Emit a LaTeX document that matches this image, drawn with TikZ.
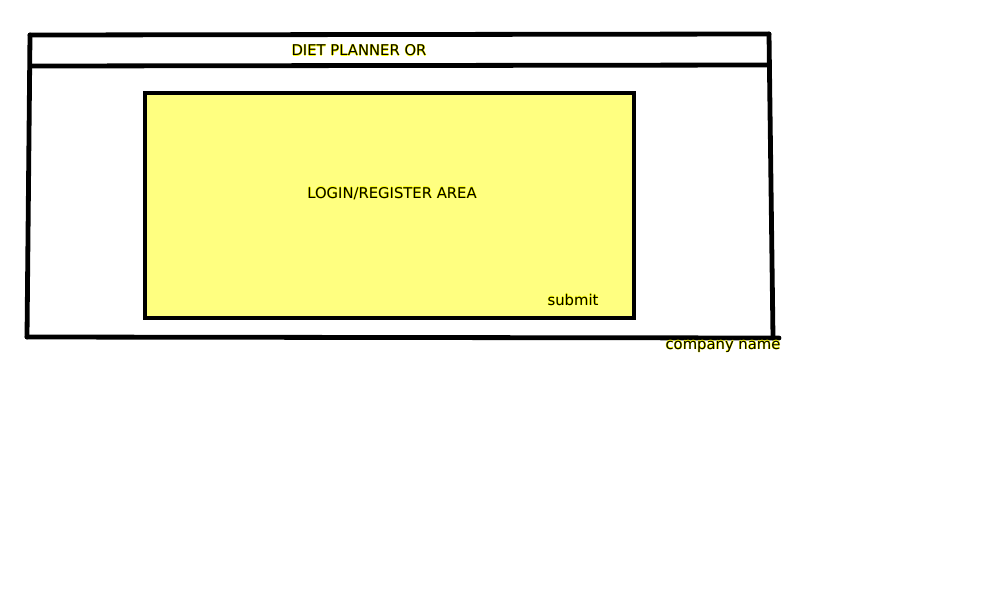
\documentclass[tikz,border=0pt]{standalone}
\usepackage{fontspec}
\setmainfont{DejaVu Sans}
\definecolor{boxyellow}{RGB}{255,255,128}
\definecolor{haloyellow}{RGB}{255,255,0}
\newcommand\glowtxt[1]{\leavevmode\rlap{\kern-0.45pt\textcolor{haloyellow}{#1}}\rlap{\kern0.45pt\textcolor{haloyellow}{#1}}\rlap{\raisebox{0.45pt}{\textcolor{haloyellow}{#1}}}\rlap{\raisebox{-0.45pt}{\textcolor{haloyellow}{#1}}}#1}
\tikzset{
  frame/.style={line width=4.8pt, line cap=round, line join=round, black},
  area/.style={draw=black, line width=4.8pt, fill=boxyellow, inner sep=0pt},
  label/.style={font=\fontsize{14.8}{17}\selectfont, text=black, inner sep=0pt},
}
\begin{document}
\begin{tikzpicture}[x=1pt,y=-1pt]
\useasboundingbox (0,0) rectangle (1000,600);
\coordinate (tl) at (30,35);
\coordinate (tr) at (769,34);
\coordinate (hl) at (31,66);
\coordinate (hr) at (769,65);
\coordinate (bl) at (27,337);
\coordinate (br) at (773,338);
\coordinate (be) at (779,338);
\draw[frame] (tl) -- (tr);
\draw[frame] (hl) -- (hr);
\draw[frame] (tl) -- (bl);
\draw[frame] (tr) -- (br);
\draw[frame] (bl) -- (be);
\node[area, minimum width=489pt, minimum height=225pt] (loginbox) at (389.5,205.5) {};
\node[label] (title) at (359,50.5) {\glowtxt{DIET PLANNER OR}};
\node[label] (login) at (392,193.5) {\glowtxt{LOGIN/REGISTER AREA}};
\node[label] (submit) at (573,299.5) {\glowtxt{submit}};
\node[label] (company) at (723,346.5) {\glowtxt{company name}};
\end{tikzpicture}
\end{document}
